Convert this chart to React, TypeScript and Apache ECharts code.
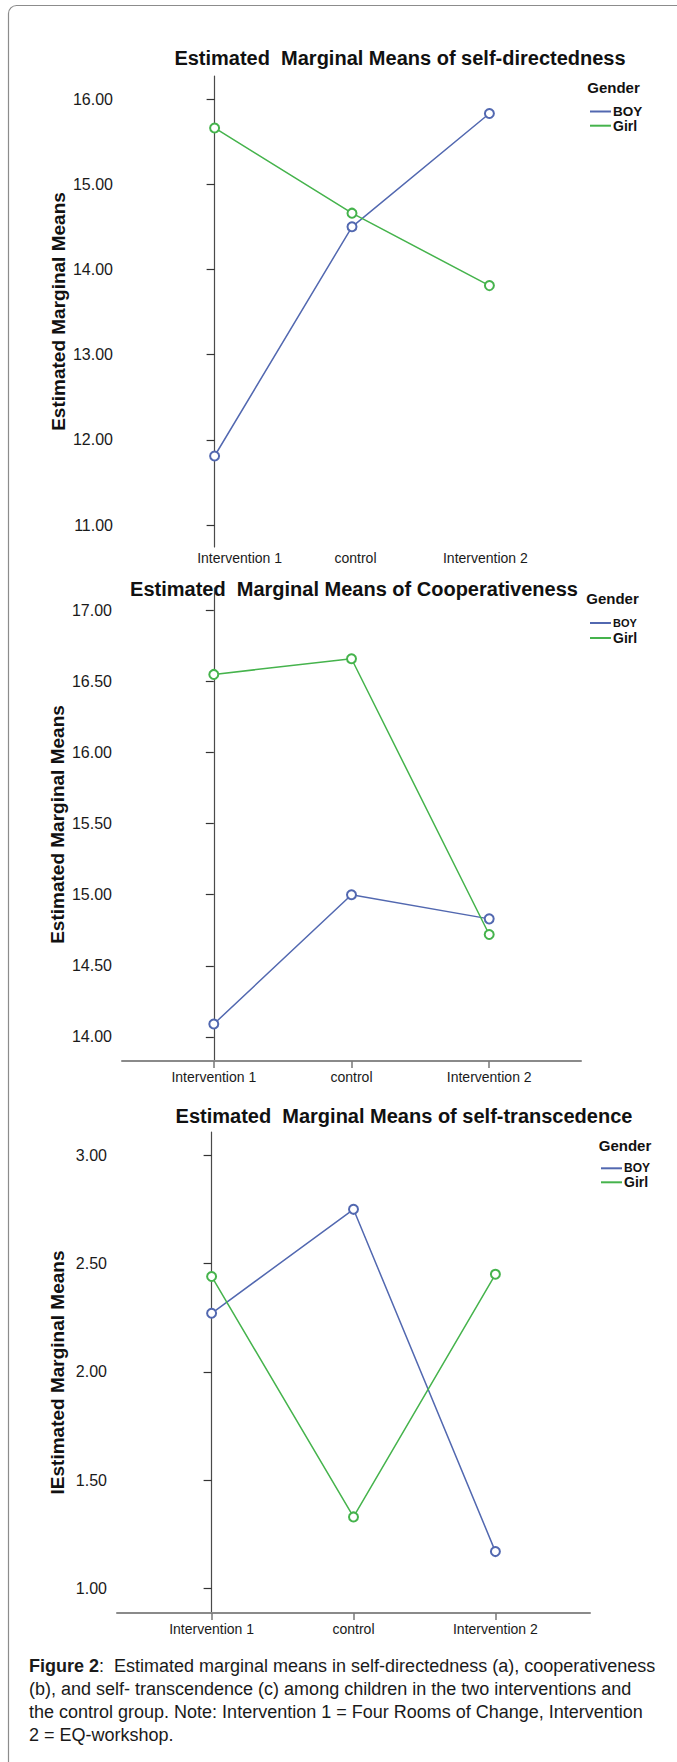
import React, { useEffect, useRef } from "react";
import * as echarts from "echarts";

// ---------- data ----------
const categories = ["Intervention 1", "control", "Intervention 2"];
const genderNames = ["BOY", "Girl"];
const legendTitle = "Gender";

const selfDirBoy = [11.81, 14.5, 15.83];
const selfDirGirl = [15.66, 14.66, 13.81];
const coopBoy = [14.09, 15.0, 14.83];
const coopGirl = [16.55, 16.66, 14.72];
const selfTransBoy = [2.27, 2.75, 1.17];
const selfTransGirl = [2.44, 1.33, 2.45];

const selfDirTicks = [11, 12, 13, 14, 15, 16];
const coopTicks = [14, 14.5, 15, 15.5, 16, 16.5, 17];
const selfTransTicks = [1, 1.5, 2, 2.5, 3];

const titles = [
  "Estimated  Marginal Means of self-directedness",
  "Estimated  Marginal Means of Cooperativeness",
  "Estimated  Marginal Means of self-transcedence",
];
const yAxisNames = [
  "Estimated Marginal Means",
  "Estimated Marginal Means",
  "IEstimated Marginal Means",
];
const captionLines = [
  "{b|Figure 2}:  Estimated marginal means in self-directedness (a), cooperativeness",
  "(b), and self- transcendence (c) among children in the two interventions and",
  "the control group. Note: Intervention 1 = Four Rooms of Change, Intervention",
  "2 = EQ-workshop.",
];

// ---------- styles / layout ----------
const FONT = "Liberation Sans, Arial, Helvetica, sans-serif";
const BOY_COLOR = "#5268b0";
const GIRL_COLOR = "#45b34c";

const panels = [
  {
    boy: selfDirBoy, girl: selfDirGirl, ticks: selfDirTicks,
    grid: { left: 123, top: 76, width: 458, height: 471 },
    yMin: 10.742, yMax: 16.27, nameGap: 55,
    showXLine: false, xLabelMargin: 4, nudge: [50, 7, -8],
    titleX: 400, titleY: 58,
    genderX: 613.5, genderY: 87,
    legendLeft: 590, boyTop: 104.5, girlTop: 118.7, boySize: 13.5, girlSize: 14,
  },
  {
    boy: coopBoy, girl: coopGirl, ticks: coopTicks,
    grid: { left: 122, top: 588, width: 459, height: 473 },
    yMin: 13.83, yMax: 17.158, nameGap: 55,
    showXLine: true, xLabelMargin: 9, nudge: [0, 0, 0],
    titleX: 354, titleY: 589,
    genderX: 612.5, genderY: 598.6,
    legendLeft: 590, boyTop: 617.5, girlTop: 631, boySize: 11, girlSize: 14,
  },
  {
    boy: selfTransBoy, girl: selfTransGirl, ticks: selfTransTicks,
    grid: { left: 117, top: 1132, width: 473, height: 481 },
    yMin: 0.8865, yMax: 3.107, nameGap: 50,
    showXLine: true, xLabelMargin: 8.5, nudge: [0, 0, 0],
    titleX: 404, titleY: 1116,
    genderX: 625, genderY: 1145,
    legendLeft: 601, boyTop: 1162.3, girlTop: 1175.3, boySize: 12, girlSize: 14,
  },
];

function fontAvailable(name: string): boolean {
  const ctx = document.createElement("canvas").getContext("2d");
  if (!ctx) return false;
  const s = "abcdefghijklmnopqrstuvwxyz0123456789";
  ctx.font = "40px monospace";
  const w1 = ctx.measureText(s).width;
  ctx.font = `40px "${name}", monospace`;
  const w2 = ctx.measureText(s).width;
  return Math.abs(w1 - w2) > 0.5;
}

function buildOption() {
  const narrow = fontAvailable("Liberation Sans Narrow");
  const capFamily = narrow ? "Liberation Sans Narrow" : "Liberation Sans";
  const ctx = document.createElement("canvas").getContext("2d")!;
  const base = 18;
  let maxW = 0;
  captionLines.slice(0, 3).forEach((l) => {
    ctx.font = `${base}px "${capFamily}"`;
    const plain = l.replace("{b|Figure 2}", "Figure 2");
    const w = ctx.measureText(plain).width;
    maxW = Math.max(maxW, w);
  });
  const capSize = Math.min(18, (base * 632) / maxW);

  const grids: any[] = [];
  const xAxes: any[] = [];
  const yAxes: any[] = [];
  const series: any[] = [];
  const legends: any[] = [];
  const graphics: any[] = [];

  graphics.push({
    type: "rect",
    shape: { x: 8.5, y: 5.5, width: 720, height: 1800, r: 8 },
    style: { fill: "none", stroke: "#8c8c8c", lineWidth: 1.2 },
    silent: true,
  });

  panels.forEach((p, i) => {
    grids.push({ ...p.grid, containLabel: false });
    const rich: any = {};
    p.nudge.forEach((n, k) => {
      rich["n" + k] = { padding: n >= 0 ? [0, 0, 0, n] : [0, -n, 0, 0] };
    });
    xAxes.push({
      type: "value",
      gridIndex: i,
      min: -2 / 3,
      max: 8 / 3,
      splitLine: { show: false },
      axisLine: { show: p.showXLine, onZero: false, lineStyle: { color: "#8a8a8a", width: 2 } },
      axisTick: { show: p.showXLine, length: 7, customValues: [0, 1, 2], lineStyle: { color: "#777", width: 1.5 } },
      axisLabel: {
        customValues: [0, 1, 2],
        margin: p.xLabelMargin,
        fontSize: 14,
        color: "#1a1a1a",
        fontFamily: FONT,
        formatter: (v: number) => {
          const k = Math.round(v);
          return `{n${k}|${categories[k]}}`;
        },
        rich,
      },
    });
    yAxes.push({
      type: "value",
      gridIndex: i,
      min: p.yMin,
      max: p.yMax,
      name: yAxisNames[i],
      nameLocation: "middle",
      nameGap: p.nameGap,
      nameRotate: 90,
      nameMoveOverlap: false,
      nameTextStyle: { fontSize: 19, fontWeight: "bold", color: "#111", fontFamily: FONT },
      splitLine: { show: false },
      axisLine: { show: true, lineStyle: { color: "#4a4a4a", width: 1.2 } },
      axisTick: { show: true, length: 8, customValues: p.ticks, lineStyle: { color: "#333", width: 1.2 } },
      axisLabel: {
        customValues: p.ticks,
        margin: 10,
        fontSize: 16,
        color: "#1a1a1a",
        fontFamily: FONT,
        formatter: (v: number) => v.toFixed(2),
      },
    });
    const mk = (name: string, vals: number[], color: string) => ({
      type: "line",
      name,
      xAxisIndex: i,
      yAxisIndex: i,
      data: vals.map((v, k) => [k, v]),
      symbol: "emptyCircle",
      symbolSize: 9,
      lineStyle: { color, width: 1.5 },
      itemStyle: { color, borderWidth: 1.3 },
      emphasis: { disabled: true },
    });
    series.push(mk(genderNames[0], p.boy, BOY_COLOR));
    series.push(mk(genderNames[1], p.girl, GIRL_COLOR));

    const legendBase = {
      orient: "vertical",
      icon: "rect",
      itemWidth: 21,
      itemHeight: 2,
      itemGap: 0,
      padding: 0,
      selectedMode: false,
      left: p.legendLeft,
    };
    legends.push({
      ...legendBase,
      top: p.boyTop,
      data: [{ name: genderNames[0], textStyle: { fontSize: p.boySize } }],
      textStyle: { fontWeight: "bold", color: "#111", fontFamily: FONT, padding: [0, 0, 0, -3] },
    });
    legends.push({
      ...legendBase,
      top: p.girlTop,
      data: [{ name: genderNames[1], textStyle: { fontSize: p.girlSize } }],
      textStyle: { fontWeight: "bold", color: "#111", fontFamily: FONT, padding: [0, 0, 0, -3] },
    });

    graphics.push({
      type: "text",
      x: p.titleX,
      y: p.titleY,
      style: {
        text: titles[i],
        fontSize: 20,
        fontWeight: "bold",
        fontFamily: FONT,
        fill: "#111",
        align: "center",
        verticalAlign: "middle",
      },
    });
    graphics.push({
      type: "text",
      x: p.genderX,
      y: p.genderY,
      style: {
        text: legendTitle,
        fontSize: 15,
        fontWeight: "bold",
        fontFamily: FONT,
        fill: "#111",
        align: "center",
        verticalAlign: "middle",
      },
    });
  });

  const capY = [1666, 1689, 1712, 1735];
  captionLines.forEach((line, k) => {
    graphics.push({
      type: "text",
      x: 29,
      y: capY[k],
      style: {
        text: line,
        fontSize: capSize,
        fontFamily: capFamily,
        fill: "#1a1a1a",
        align: "left",
        verticalAlign: "middle",
        rich: {
          b: { fontWeight: "bold", fontSize: capSize, fontFamily: capFamily, fill: "#1a1a1a" },
        },
      },
    });
  });

  return {
    animation: false,
    backgroundColor: "#ffffff",
    textStyle: { fontFamily: FONT },
    grid: grids,
    xAxis: xAxes,
    yAxis: yAxes,
    legend: legends,
    series,
    graphic: graphics,
  };
}

export default function App() {
  const ref = useRef<HTMLDivElement>(null);
  useEffect(() => {
    document.body.style.margin = "0";
    if (!ref.current) return;
    const chart = echarts.init(ref.current, null, { renderer: "svg" });
    chart.setOption(buildOption() as any);
    return () => chart.dispose();
  }, []);
  return <div ref={ref} style={{ width: 677, height: 1762 }} />;
}
